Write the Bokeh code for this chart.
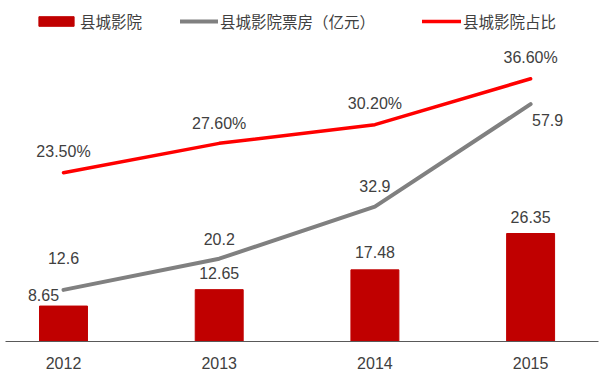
from bokeh.plotting import figure
from bokeh.models import Range1d, Legend, LegendItem, ColumnDataSource, FixedTicker
from bokeh.embed import file_html
from bokeh.resources import INLINE
from bokeh.core.properties import value

# ---- data ----
years = ["2012", "2013", "2014", "2015"]
cinemas = [8.65, 12.65, 17.48, 26.35]
box_office = [12.6, 20.2, 32.9, 57.9]
share = [23.5, 27.6, 30.2, 36.6]
cinema_labels = ["8.65", "12.65", "17.48", "26.35"]
box_labels = ["12.6", "20.2", "32.9", "57.9"]
share_labels = ["23.50%", "27.60%", "30.20%", "36.60%"]
legend_names = ["县城影院", "县城影院票房（亿元）", "县城影院占比"]

x = list(range(len(years)))

# ---- styles ----
BAR = "#C00000"
GREY = "#808080"
RED = "#FF0000"
TXT = "#404040"
NUM_FONT = "Liberation Sans"
CJK_FONT = "Noto Sans CJK SC"

p = figure(width=600, height=371, output_backend="svg", toolbar_location=None,
           x_range=Range1d(-0.3725, 3.436), y_range=Range1d(0, 83.2),
           min_border_left=5, min_border_right=2, min_border_top=0, min_border_bottom=0)
p.extra_y_ranges = {"pct": Range1d(0, 47.5)}
p.outline_line_color = None
p.xgrid.visible = False
p.ygrid.visible = False
p.yaxis.visible = False
p.background_fill_color = "white"
p.border_fill_color = "white"

ax = p.xaxis[0]
ax.ticker = FixedTicker(ticks=x)
ax.major_label_overrides = {i: y for i, y in zip(x, years)}
ax.axis_line_color = "#595959"
ax.axis_line_width = 1
ax.major_tick_line_color = None
ax.minor_tick_line_color = None
ax.major_label_standoff = 9
ax.major_label_text_font = NUM_FONT
ax.major_label_text_font_size = "16px"
ax.major_label_text_color = TXT

bars = p.vbar(x=x, top=cinemas, width=0.308, fill_color=BAR, line_color=BAR)
gline = p.line(x, box_office, line_width=4, line_color=GREY, line_cap="round")
rline = p.line(x, share, y_range_name="pct", line_width=3.5, line_color=RED, line_cap="round")

# data labels
bar_src = ColumnDataSource(dict(x=x, y=cinemas, t=cinema_labels,
                                dx=[-20, 0, 0, 0], dy=[-11, -17, -18, -17]))
p.text(x="x", y="y", text="t", x_offset="dx", y_offset="dy", source=bar_src,
       text_align="center", text_baseline="middle", text_font=value(NUM_FONT),
       text_font_size="16px", text_color=TXT)

box_src = ColumnDataSource(dict(x=x, y=box_office, t=box_labels,
                                dx=[0, 0, 0, 17], dy=[-32, -20, -21, 16]))
p.text(x="x", y="y", text="t", x_offset="dx", y_offset="dy", source=box_src,
       text_align="center", text_baseline="middle", text_font=value(NUM_FONT),
       text_font_size="16px", text_color=TXT)

share_src = ColumnDataSource(dict(x=x, y=share, t=share_labels,
                                  dx=[0, 0, 0, 0], dy=[-21, -20, -21, -21]))
p.text(x="x", y="y", text="t", x_offset="dx", y_offset="dy", source=share_src,
       y_range_name="pct", text_align="center", text_baseline="middle",
       text_font=value(NUM_FONT), text_font_size="16px", text_color=TXT)


def add_legend(renderer, label, loc, gw, gh):
    lg = Legend(items=[LegendItem(label=label, renderers=[renderer])], location=loc,
                orientation="horizontal", glyph_width=gw, glyph_height=gh,
                label_standoff=2, padding=0, margin=0, spacing=0, label_height=18,
                border_line_color=None, background_fill_alpha=0,
                label_text_font=CJK_FONT, label_text_font_size="15.5px",
                label_text_color=TXT)
    p.add_layout(lg, "center")


add_legend(bars, legend_names[0], (29, 309), 44, 12)
add_legend(gline, legend_names[1], (175, 309), 38, 12)
add_legend(rline, legend_names[2], (417, 309), 39, 12)

open("out.html", "w").write(file_html(p, INLINE))
